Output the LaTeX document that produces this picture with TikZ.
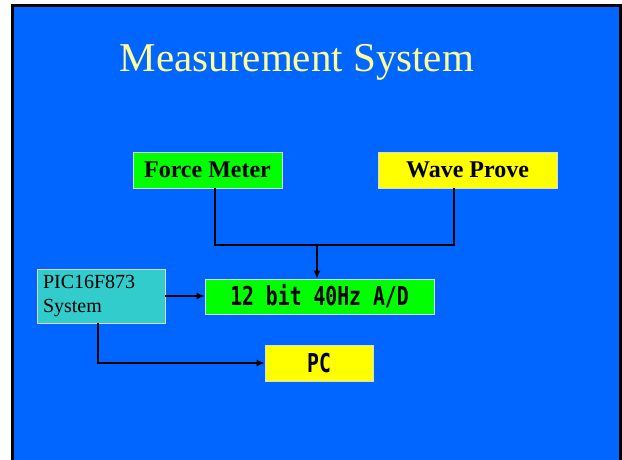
\documentclass[tikz,border=0pt]{standalone}
\usepackage{fontspec}
\setmainfont{Liberation Serif}
\newfontfamily\gothic[FakeStretch=0.76]{DejaVu Sans Mono}
\usetikzlibrary{arrows.meta}
\definecolor{slideblue}{HTML}{0066FF}
\definecolor{boxgreen}{HTML}{00FF00}
\definecolor{boxyellow}{HTML}{FFFF00}
\definecolor{boxcyan}{HTML}{33CCCC}
\definecolor{titleyellow}{HTML}{FFFF99}
\tikzset{
  block/.style={draw=white!85!black, line width=0.6pt, inner sep=0pt},
  wire/.style={line width=2.6pt, line join=miter},
  wirearrow/.style={wire, -{Latex[length=8pt,width=7pt]}}
}
\begin{document}
\begin{tikzpicture}[x=1pt,y=-1pt]
  \useasboundingbox (0,0) rectangle (622,459);
  % slide background
  \fill[white] (0,0) rectangle (622,459);
  \draw[fill=slideblue, line width=2.6pt] (12.3,5.3) rectangle (620.7,470);
  % title
  \node[titleyellow, font=\fontsize{41}{45}\selectfont] (title) at (297,62) {Measurement System};
  % blocks
  \node[block, fill=boxgreen, minimum width=149pt, minimum height=36pt,
        font=\fontsize{24}{26}\selectfont\bfseries] (fm) at (207.5,170) {Force Meter};
  \node[block, fill=boxyellow, minimum width=179pt, minimum height=36pt,
        font=\fontsize{24}{26}\selectfont\bfseries] (wp) at (467.5,170) {Wave Prove};
  \node[block, fill=boxgreen, minimum width=229pt, minimum height=35pt,
        font=\gothic\bfseries\fontsize{26}{28}\selectfont] (ad) at (319.5,296.5) {12 bit 40Hz A/D};
  \node[block, fill=boxcyan, minimum width=128pt, minimum height=54pt,
        text width=116pt, align=left,
        font=\fontsize{20}{24}\selectfont] (pic) at (101,296) {PIC16F873\\System};
  \node[block, fill=boxyellow, minimum width=108pt, minimum height=36pt,
        font=\gothic\bfseries\fontsize{26}{28}\selectfont] (pc) at (319,363) {PC};
  % connectors
  \coordinate (join) at (317,245);
  \draw[wire] ([xshift=7.5pt]fm.south) |- (join) -| ([xshift=-13.5pt]wp.south);
  \draw[wirearrow] (join) -- (ad.north -| join);
  \draw[wirearrow] (pic.east) -- (pic.east -| ad.west);
  \draw[wirearrow] ([xshift=-3pt]pic.south) |- (pc.west);
\end{tikzpicture}
\end{document}
